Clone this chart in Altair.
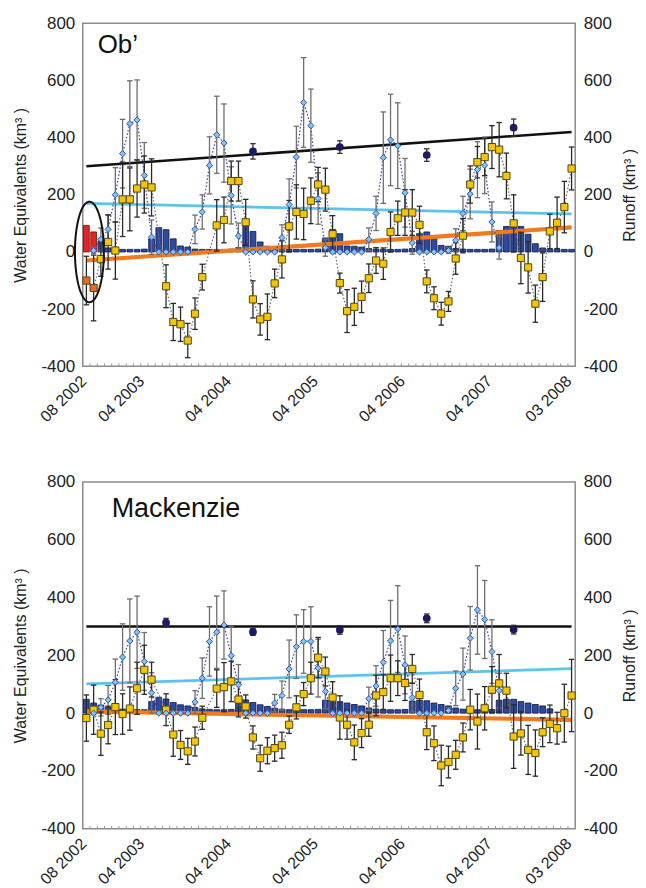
import altair as alt
import pandas as pd
import numpy as np

# ---------------- shared axis content ----------------
months = list(range(68))                      # Aug 2002 .. Mar 2008 (category index)
x_tick_months = [0, 8, 20, 32, 44, 56, 67]
x_tick_labels = ["08 2002", "04 2003", "04 2004", "04 2005", "04 2006", "04 2007", "03 2008"]
y_ticks = [-400, -200, 0, 200, 400, 600, 800]

# ---------------- Ob' ----------------
ob_name = "Ob\u2019"
ob_tws = [-100, -126, -25, 35, 5, 184, 184, 222, 236, 226, None, -120, -245, -253, -310, -216, -88, None,
          93, 112, 248, 248, 104, -166, -236, -227, -110, -26, 90, 140, 133, 179, 236, 218, 62, -109,
          -207, -192, -157, -92, -30, -41, 70, 118, 138, 138, 95, -103, -162, -216, -173, -23, 57, 236,
          314, 332, 367, 358, 266, 100, -21, -54, -181, -88, 72, 102, 157, 292]
ob_tws_err = [85, 115, 60, 95, 100, 130, 110, 100, 100, 100, None, 75, 65, 60, 60, 55, 45, None,
              90, 80, 70, 70, 80, 65, 55, 80, 50, 65, 90, 95, 90, 80, 60, 75, 65, 35,
              75, 65, 55, 50, 45, 55, 70, 60, 80, 80, 65, 40, 40, 40, 35, 55, 60, 65,
              55, 65, 75, 95, 80, 100, 90, 90, 65, 85, 60, 90, 90, 75]
ob_swe = [None, 5, 44, 79, 200, 344, 449, 462, 268, 52, 0, 0, 0, 0, 0, 79, 140, 303, 410, 381,
          198, 56, 0, 0, 0, 0, 0, 50, 166, 332, 523, 442, 187, 15, 0, 0, 0, 0, 0, 44,
          135, 330, 392, 372, 207, 32, 0, 0, 0, 0, 5, 41, 135, 203, 288, 303, 105, 15] + [None] * 10
ob_swe_err = [None, 10, 40, 50, 95, 120, 150, 140, 115, 60, 0, 0, 0, 0, 0, 50, 60, 100, 135, 137,
              100, 45, 0, 0, 0, 0, 0, 45, 90, 108, 157, 128, 90, 30, 0, 0, 0, 0, 0, 40,
              60, 160, 160, 150, 120, 40, 0, 0, 0, 0, 10, 40, 60, 87, 98, 99, 70, 40] + [None] * 10
ob_runoff = [93, 70, 38, 14, 10, 9, 9, 9, 10, 46, 85, 78, 46, 21, 17, 10, 9, 9, 9, 9,
             10, 15, 93, 72, 35, 20, 14, 10, 9, 9, 9, 9, 10, 49, 79, 64, 21, 20, 17, 12,
             10, 9, 9, 9, 10, 12, 64, 70, 52, 23, 20, 12, 10, 9, 9, 9, 10, 75, 89, 89,
             89, 62, 29, 14, 10, 9, 9, 9]
ob_highlight = [0, 1]
ob_annual_month = [23, 35, 47, 59]
ob_annual = [352, 367, 339, 435]
ob_annual_err = [27, 22, 22, 30]
ob_trend_black = [300, 420]
ob_trend_blue = [170, 133]
ob_trend_orange = [-30, 86]

# ---------------- Mackenzie ----------------
mk_name = "Mackenzie"
mk_tws = [-17, 12, -71, -41, 21, -3, 16, 86, 150, 116, None, 12, -74, -110, -132, -98, -16, None,
          85, 90, 110, 47, 23, -84, -156, -130, -121, -111, -40, 20, 66, 121, 192, 144, 54, -15,
          -40, -101, -69, -40, 61, 73, 121, 121, 104, 153, 63, -66, -104, -181, -169, -144, -84, 12,
          -29, 17, 81, 103, 78, -81, -70, -127, -138, -66, -37, -52, 0, 61]
mk_tws_err = [80, 85, 75, 65, 95, 70, 75, 90, 85, 60, None, 55, 75, 50, 45, 50, 40, None,
              65, 85, 70, 60, 40, 40, 45, 45, 45, 45, 30, 40, 40, 55, 70, 50, 55, 75,
              50, 60, 50, 40, 70, 60, 80, 60, 60, 50, 55, 60, 60, 70, 55, 50, 50, 70,
              95, 75, 80, 100, 60, 110, 75, 85, 80, 50, 65, 55, 100, 125]
mk_swe = [None, 0, 20, 46, 107, 194, 250, 280, 179, 70, 0, 0, 0, 0, 0, 38, 121, 248, 280, 305,
          199, 98, 0, 0, 0, 0, 35, 61, 153, 230, 248, 248, 156, 75, 0, 0, 0, 0, 0, 50,
          94, 176, 250, 291, 167, 54, 0, 0, 0, 0, 9, 86, 135, 259, 357, 324, 213, 78] + [None] * 10
mk_swe_err = [None, 5, 30, 50, 80, 115, 145, 125, 100, 70, 0, 0, 0, 0, 0, 40, 70, 120, 125, 118,
              100, 70, 0, 0, 0, 0, 30, 50, 100, 110, 110, 120, 100, 60, 0, 0, 0, 0, 0, 40,
              70, 110, 140, 150, 100, 50, 0, 0, 0, 0, 10, 60, 90, 110, 153, 135, 110, 60] + [None] * 10
mk_runoff = [48, 35, 28, 20, 16, 14, 13, 12, 12, 40, 55, 49, 37, 29, 25, 20, 15, 13, 12, 12,
             13, 50, 46, 37, 29, 23, 17, 14, 12, 12, 12, 12, 13, 45, 45, 40, 35, 30, 25, 18,
             14, 12, 12, 12, 13, 42, 45, 43, 35, 30, 25, 18, 14, 12, 12, 12, 13, 45, 48, 48,
             40, 35, 30, 25, 15, None, None, None]
mk_highlight = []
mk_annual_month = [11, 23, 35, 47, 59]
mk_annual = [313, 281, 288, 328, 289]
mk_annual_err = [15, 12, 15, 15, 15]
mk_trend_black = [300, 300]
mk_trend_blue = [101, 154]
mk_trend_orange = [6, -23]

# ---------------- styling ----------------
FONT = "Liberation Sans"
C_YELLOW = "#F6C500"
C_ORANGE_SQ = "#EC6A22"
C_NAVY_BAR = "#2D4A9E"
C_RED_BAR = "#E42424"
C_DIAMOND = "#7CC7F3"
C_DIAMOND_EDGE = "#3A4DB0"
C_CIRCLE = "#1E1A60"
C_BLUE_LINE = "#5CC3EE"
C_ORANGE_LINE = "#F07A1C"

W = 494
XDOM = [0, 68]
Y_LABEL_EXPR = "datum.value < 0 ? '-' + abs(datum.value) : '' + datum.value"


def x_label_expr():
    expr = "''"
    for m, lab in reversed(list(zip(x_tick_months, x_tick_labels))):
        expr = f"abs(datum.value - {m + 0.5}) < 0.01 ? '{lab}' : ({expr})"
    return expr


def xaxis():
    return alt.Axis(values=[m + 0.5 for m in x_tick_months], labelExpr=x_label_expr(),
                    labelAngle=-45, labelAlign="right", labelBaseline="middle",
                    labelPadding=12, labelOffset=-3, ticks=False, domain=False, grid=False, title=None,
                    labelFontSize=16, labelFont=FONT, labelColor="#222",
                    labelOverlap=False, labelFlush=False, labelBound=False)


def xs():
    return alt.Scale(domain=XDOM, nice=False, zero=False)


def ys():
    return alt.Scale(domain=[-400, 800], nice=False, zero=False)


def panel(name, name_dx, name_dy, name_size, tws, tws_err, swe, swe_err, runoff, highlight,
          ann_m, ann_v, ann_e, tb, tl, to, ellipse, height):
    df = pd.DataFrame({"m": months, "tws": tws, "tws_err": tws_err, "swe": swe,
                       "swe_err": swe_err, "runoff": runoff})
    df["xc"] = df["m"] + 0.5
    df["x0"] = df["m"] + 0.1
    df["x1"] = df["m"] + 0.9
    df["cl"] = df["xc"] - 0.38
    df["cr"] = df["xc"] + 0.38
    df["base"] = 0.0
    df["barkind"] = ["red" if m in highlight else "navy" for m in months]
    df["sqkind"] = ["orange" if m in highlight else "yellow" for m in months]

    bars_df = df.dropna(subset=["runoff"])
    tws_df = df.dropna(subset=["tws"]).copy()
    tws_df["lo"] = tws_df["tws"] - tws_df["tws_err"]
    tws_df["hi"] = tws_df["tws"] + tws_df["tws_err"]
    swe_df = df.dropna(subset=["swe"]).copy()
    swe_df["lo"] = swe_df["swe"] - swe_df["swe_err"]
    swe_df["hi"] = swe_df["swe"] + swe_df["swe_err"]
    ann_df = pd.DataFrame({"m": ann_m, "v": ann_v, "e": ann_e})
    ann_df["xc"] = ann_df["m"] + 0.5
    ann_df["lo"] = ann_df["v"] - ann_df["e"]
    ann_df["hi"] = ann_df["v"] + ann_df["e"]
    ann_df["cl"] = ann_df["xc"] - 0.38
    ann_df["cr"] = ann_df["xc"] + 0.38

    X = lambda f: alt.X(f, scale=xs(), axis=xaxis())
    Yl = lambda f: alt.Y(f, scale=ys(), axis=alt.Axis(
        values=y_ticks, labelExpr=Y_LABEL_EXPR, ticks=False, domain=False, grid=False,
        labelFontSize=17, labelFont=FONT, labelColor="#222", labelPadding=8,
        minExtent=46, maxExtent=46,
        title="Water Equivalents (km\u00b3 )", titleFont=FONT,
        titleFontSize=16, titleFontWeight="normal", titleColor="#222", titlePadding=8,
        labelFlush=False, labelBound=False))

    # runoff bars on the right axis
    bars = alt.Chart(bars_df).mark_bar(strokeWidth=0.8, opacity=1).encode(
        x=X("x0:Q"), x2="x1",
        y=alt.Y("runoff:Q", scale=ys(), axis=alt.Axis(
            orient="right", values=y_ticks, labelExpr=Y_LABEL_EXPR, ticks=False, domain=False,
            grid=False, labelFontSize=17, labelFont=FONT, labelColor="#222", labelPadding=8,
            minExtent=44, maxExtent=44,
            title="Runoff (km\u00b3 )", titleAngle=270, titleBaseline="top", titleFont=FONT,
            titleFontSize=16, titleFontWeight="normal", titleColor="#222", titlePadding=2,
            labelFlush=False, labelBound=False)),
        y2="base",
        fill=alt.Fill("barkind:N", scale=alt.Scale(domain=["navy", "red"], range=[C_NAVY_BAR, C_RED_BAR]),
                      legend=None),
        stroke=alt.Stroke("barkind:N", scale=alt.Scale(domain=["navy", "red"], range=["#0E1648", "#6E1010"]),
                          legend=None),
    )

    layers = []
    # minor month ticks at the bottom
    tick_df = pd.DataFrame({"b": list(range(1, 68))})
    tick_df["y0"] = -400
    tick_df["y1"] = -390
    layers.append(alt.Chart(tick_df).mark_rule(color="#999", strokeWidth=1).encode(
        x=X("b:Q"), y=Yl("y0:Q"), y2="y1"))

    # trend lines
    for vals, col, sw in [(tb, "#111111", 2.6), (tl, C_BLUE_LINE, 2.8), (to, C_ORANGE_LINE, 4.2)]:
        tdf = pd.DataFrame({"xc": [0.5, 67.5], "v": vals})
        layers.append(alt.Chart(tdf).mark_line(color=col, strokeWidth=sw).encode(
            x=X("xc:Q"), y=Yl("v:Q")))

    # dotted connectors
    layers.append(alt.Chart(swe_df).mark_line(color="#3A3FA0", strokeWidth=1.2, strokeDash=[1.5, 2]).encode(
        x=X("xc:Q"), y=Yl("swe:Q")))
    layers.append(alt.Chart(tws_df).mark_line(color="#6A6A6A", strokeWidth=1.2, strokeDash=[1.5, 2]).encode(
        x=X("xc:Q"), y=Yl("tws:Q")))

    # error bars
    for edf, col in [(swe_df, "#6E6E6E"), (tws_df, "#2A2A2A"), (ann_df, "#333333")]:
        layers.append(alt.Chart(edf).mark_rule(color=col, strokeWidth=1.3).encode(
            x=X("xc:Q"), y=Yl("lo:Q"), y2="hi"))
        for end in ["lo", "hi"]:
            layers.append(alt.Chart(edf).mark_rule(color=col, strokeWidth=1.3).encode(
                x=X("cl:Q"), x2="cr", y=Yl(f"{end}:Q")))

    # markers
    layers.append(alt.Chart(tws_df).mark_square(size=52, stroke="#4A4A22", strokeWidth=1, opacity=1).encode(
        x=X("xc:Q"), y=Yl("tws:Q"),
        fill=alt.Fill("sqkind:N", scale=alt.Scale(domain=["yellow", "orange"], range=[C_YELLOW, C_ORANGE_SQ]),
                      legend=None)))
    layers.append(alt.Chart(swe_df).mark_point(shape="diamond", filled=True, size=38, fill=C_DIAMOND,
                                               stroke=C_DIAMOND_EDGE, strokeWidth=1, opacity=1).encode(
        x=X("xc:Q"), y=Yl("swe:Q")))
    layers.append(alt.Chart(ann_df).mark_circle(size=60, color=C_CIRCLE, opacity=1).encode(
        x=X("xc:Q"), y=Yl("v:Q")))

    if ellipse:
        cx, cy, rx, ry = ellipse
        t = np.linspace(0, 2 * np.pi, 90)
        edf = pd.DataFrame({"i": range(len(t)), "ex": cx + rx * np.cos(t), "ey": cy + ry * np.sin(t)})
        layers.append(alt.Chart(edf).mark_line(color="#111", strokeWidth=2).encode(
            x=X("ex:Q"), y=Yl("ey:Q"), order="i:Q"))

    layers.append(alt.Chart(pd.DataFrame({"t": [name]})).mark_text(
        align="left", baseline="alphabetic", font=FONT, fontSize=name_size, color="#111").encode(
        x=alt.value(name_dx), y=alt.value(name_dy), text="t:N"))

    left = alt.layer(*layers)
    return alt.layer(bars, left).resolve_scale(y="independent", fill="independent",
                                               stroke="independent").properties(width=W, height=height)


top = panel(ob_name, 15, 30, 26, ob_tws, ob_tws_err, ob_swe, ob_swe_err, ob_runoff, ob_highlight,
            ob_annual_month, ob_annual, ob_annual_err, ob_trend_black, ob_trend_blue, ob_trend_orange,
            (0.92, 0, 2.0, 176), 344)
bottom = panel(mk_name, 29, 35, 27, mk_tws, mk_tws_err, mk_swe, mk_swe_err, mk_runoff, mk_highlight,
               mk_annual_month, mk_annual, mk_annual_err, mk_trend_black, mk_trend_blue, mk_trend_orange,
               None, 348)

chart = alt.vconcat(top, bottom, spacing=46).properties(
    padding={"left": 4, "top": 4, "right": 0, "bottom": 0}
).configure_view(stroke="#8C8C8C", strokeWidth=1.5)

chart.save("out.html", embed_options={"renderer": "svg", "actions": False})
